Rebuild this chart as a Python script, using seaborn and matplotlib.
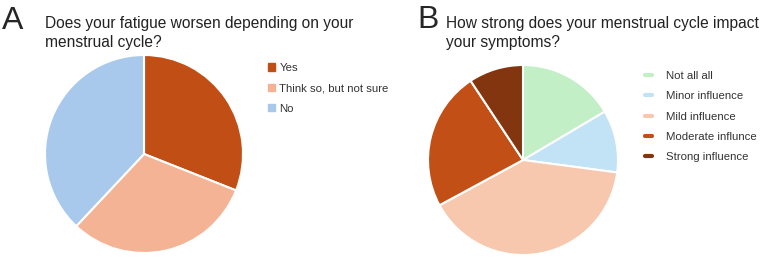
import matplotlib
matplotlib.use("Agg")
import matplotlib.pyplot as plt
from matplotlib.lines import Line2D
import seaborn as sns

# panel A
labels_a = ["Yes", "Think so, but not sure", "No"]
values_a = [31.0, 31.0, 38.0]
colors_a = ["#C14F15", "#F4B394", "#A8C9EC"]

# panel B
labels_b = ["Not all all", "Minor influence", "Mild influence", "Moderate influnce", "Strong influence"]
values_b = [16.5, 10.6, 40.0, 23.6, 9.3]
colors_b = ["#C3EFC7", "#C2E3F5", "#F7C8AE", "#C24F15", "#83350F"]

sns.set_theme(style="white")
plt.rcParams['font.family'] = ['Liberation Sans', 'DejaVu Sans']

W, H = 767, 257
fig = plt.figure(figsize=(W / 100, H / 100), dpi=100)


def px_axes(x0, y0, w, h):
    return fig.add_axes([x0 / W, 1 - (y0 + h) / H, w / W, h / H])


def draw_pie(ax, values, colors):
    wedges, _ = ax.pie(values, colors=colors, startangle=90, counterclock=False,
                       wedgeprops=dict(edgecolor="white", linewidth=1.5))
    ax.set_xlim(-1, 1)
    ax.set_ylim(-1, 1)
    ax.set_aspect("equal")
    ax.axis("off")
    return wedges


ax_a = px_axes(45, 55, 198, 198)
wedges_a = draw_pie(ax_a, values_a, colors_a)

ax_b = px_axes(428, 65, 190, 190)
wedges_b = draw_pie(ax_b, values_b, colors_b)

# titles
fig.text(2 / W, 1 - 29 / H, "A", fontsize=23, va="baseline", ha="left")
fig.text(45 / W, 1 - 47 / H, "Does your fatigue worsen depending on your\nmenstrual cycle?",
         fontsize=11.2, va="baseline", ha="left", linespacing=1.33, color="#222222")
fig.text(417 / W, 1 - 28 / H, "B", fontsize=23, va="baseline", ha="left")
fig.text(446 / W, 1 - 47 / H, "How strong does your menstrual cycle impact\nyour symptoms?",
         fontsize=11.2, va="baseline", ha="left", linespacing=1.33, color="#222222")

# legends
handles_a = [plt.Rectangle((0, 0), 1, 1, color=c) for c in colors_a]
fig.legend(handles_a, labels_a, loc="upper left", bbox_to_anchor=(268 / W, 1 - 63 / H),
           frameon=False, fontsize=8.2, handlelength=0.6, handleheight=0.6,
           handletextpad=0.4, labelspacing=0.9, borderpad=0, borderaxespad=0,
           labelcolor="#333333")

handles_b = [Line2D([0], [0], color=c, lw=3) for c in colors_b]
fig.legend(handles_b, labels_b, loc="upper left", bbox_to_anchor=(645 / W, 1 - 71 / H),
           frameon=False, fontsize=8.2, handlelength=0.6, handletextpad=1.2,
           labelspacing=0.9, borderpad=0, borderaxespad=0, labelcolor="#333333")

fig.savefig("out.png", dpi=100, facecolor="white")
